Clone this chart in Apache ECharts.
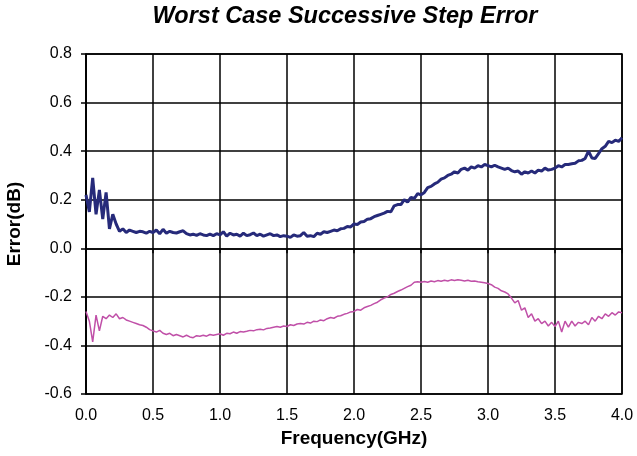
<!DOCTYPE html>
<html>
<head>
<meta charset="utf-8">
<script src="https://cdn.jsdelivr.net/npm/echarts@6/dist/echarts.min.js"></script>
<style>
  html, body { margin: 0; padding: 0; background: #fff; }
  #chart { width: 637px; height: 456px; }
</style>
</head>
<body>
<div id="chart"></div>
<script>
// sweep grid: 0.0 .. 4.0 GHz, 0.025 GHz step
const freqStart = 0;
const freqStep = 0.025;

// upper trace (dark blue)
const upperErr = [
  0.22, 0.15, 0.29, 0.14, 0.24, 0.12, 0.23, 0.08, 0.14, 0.10,
  0.07, 0.08, 0.065, 0.075, 0.07, 0.065, 0.07, 0.068, 0.062, 0.07,
  0.065, 0.075, 0.06, 0.078, 0.062, 0.07, 0.065, 0.063, 0.068, 0.072,
  0.06, 0.055, 0.058, 0.053, 0.06, 0.055, 0.052, 0.058, 0.052, 0.06,
  0.055, 0.068, 0.05, 0.062, 0.055, 0.058, 0.05, 0.062, 0.052, 0.056,
  0.063, 0.052, 0.058, 0.05, 0.055, 0.06, 0.052, 0.055, 0.048, 0.052,
  0.05, 0.045, 0.055, 0.05, 0.052, 0.065, 0.05, 0.052, 0.048, 0.062,
  0.058, 0.068, 0.065, 0.07, 0.075, 0.072, 0.08, 0.082, 0.09, 0.088,
  0.10, 0.098, 0.108, 0.11, 0.12, 0.122, 0.13, 0.135, 0.14, 0.145,
  0.152, 0.15, 0.175, 0.18, 0.18, 0.20, 0.19, 0.21, 0.205, 0.225,
  0.22, 0.23, 0.25, 0.255, 0.265, 0.272, 0.285, 0.29, 0.30, 0.305,
  0.315, 0.31, 0.325, 0.33, 0.322, 0.335, 0.33, 0.34, 0.335, 0.345,
  0.34, 0.335, 0.342, 0.335, 0.33, 0.325, 0.33, 0.32, 0.315, 0.318,
  0.305, 0.315, 0.31, 0.318, 0.31, 0.322, 0.318, 0.33, 0.322, 0.325,
  0.33, 0.34, 0.335, 0.345, 0.345, 0.348, 0.35, 0.36, 0.362, 0.37,
  0.40, 0.372, 0.37, 0.39, 0.41, 0.42, 0.44, 0.435, 0.445, 0.44,
  0.455
];

// lower trace (magenta)
const lowerErr = [
  -0.26, -0.30, -0.385, -0.275, -0.34, -0.28, -0.29, -0.275, -0.285, -0.27,
  -0.29, -0.285, -0.295, -0.30, -0.305, -0.31, -0.315, -0.318, -0.325, -0.335,
  -0.34, -0.345, -0.338, -0.35, -0.355, -0.35, -0.36, -0.355, -0.36, -0.365,
  -0.358, -0.365, -0.368, -0.36, -0.362, -0.358, -0.362, -0.355, -0.358, -0.355,
  -0.352, -0.358, -0.35, -0.352, -0.345, -0.35, -0.343, -0.345, -0.342, -0.338,
  -0.34, -0.335, -0.333, -0.336, -0.33, -0.328, -0.325, -0.322, -0.325, -0.32,
  -0.322, -0.315, -0.318, -0.312, -0.31, -0.312, -0.305, -0.308, -0.30, -0.302,
  -0.295, -0.298, -0.29, -0.285, -0.288, -0.28, -0.278, -0.272, -0.268, -0.262,
  -0.26, -0.252, -0.255, -0.245, -0.24, -0.235, -0.228, -0.222, -0.212, -0.205,
  -0.20, -0.19, -0.185, -0.178, -0.172, -0.165, -0.158, -0.152, -0.14, -0.138,
  -0.14, -0.137, -0.14, -0.135, -0.138, -0.133, -0.136, -0.132, -0.135, -0.13,
  -0.133, -0.13, -0.132, -0.135, -0.132, -0.136, -0.135, -0.138, -0.14, -0.142,
  -0.145, -0.15, -0.16, -0.165, -0.175, -0.18, -0.188, -0.205, -0.225, -0.215,
  -0.255, -0.245, -0.285, -0.27, -0.30, -0.29, -0.31, -0.30, -0.32, -0.305,
  -0.322, -0.30, -0.345, -0.30, -0.325, -0.30, -0.32, -0.305, -0.31, -0.30,
  -0.315, -0.285, -0.30, -0.28, -0.29, -0.27, -0.28, -0.265, -0.275, -0.262,
  -0.265
];

const freqs = upperErr.map((_, i) => +(freqStart + i * freqStep).toFixed(3));

const chart = echarts.init(document.getElementById('chart'), null, { renderer: 'canvas' });

const fontFamily = 'Liberation Sans, Arial, sans-serif';
const axisFont = { color: '#000', fontSize: 16, fontFamily: fontFamily };
const nameFont = { color: '#000', fontSize: 19, fontWeight: 'bold', fontFamily: fontFamily };

const option = {
  animation: false,
  backgroundColor: '#fff',
  title: {
    text: 'Worst Case Successive Step Error',
    left: 340,
    textAlign: 'center',
    top: 0,
    textStyle: {
      fontSize: 23.5,
      fontWeight: 'bold',
      fontStyle: 'italic',
      color: '#000',
      fontFamily: fontFamily
    }
  },
  grid: {
    left: 86,
    right: 15,
    top: 54,
    bottom: 62,
    outerBoundsMode: 'none',
    containLabel: false,
    show: true,
    borderColor: '#000',
    borderWidth: 1.5
  },
  xAxis: {
    type: 'value',
    min: 0,
    max: 4,
    interval: 0.5,
    name: 'Frequency(GHz)',
    nameLocation: 'middle',
    nameGap: 30,
    nameTextStyle: nameFont,
    axisLine: { show: true, lineStyle: { color: '#000', width: 1.5 } },
    axisTick: { show: true, length: 5, lineStyle: { color: '#000', width: 1.5 } },
    axisLabel: Object.assign({ margin: 14, formatter: v => v.toFixed(1) }, axisFont),
    splitLine: { show: true, lineStyle: { color: '#000', width: 1.5 } }
  },
  yAxis: {
    type: 'value',
    min: -0.6,
    max: 0.8,
    interval: 0.2,
    name: 'Error(dB)',
    nameLocation: 'middle',
    nameGap: 62,
    nameTextStyle: nameFont,
    axisLine: { show: true, lineStyle: { color: '#000', width: 1.5 } },
    axisTick: { show: true, length: 5, lineStyle: { color: '#000', width: 1.5 } },
    axisLabel: Object.assign({ margin: 14, formatter: v => v.toFixed(1) }, axisFont),
    splitLine: { show: true, lineStyle: { color: '#000', width: 1.5 } }
  },
  series: [
    {
      name: 'upper',
      type: 'line',
      data: freqs.map((f, i) => [f, upperErr[i]]),
      showSymbol: false,
      lineStyle: { color: '#262a7a', width: 3 },
      itemStyle: { color: '#262a7a' },
      z: 3
    },
    {
      name: 'lower',
      type: 'line',
      data: freqs.map((f, i) => [f, lowerErr[i]]),
      showSymbol: false,
      lineStyle: { color: '#c050a8', width: 1.5 },
      itemStyle: { color: '#c050a8' },
      z: 2
    }
  ]
};

chart.setOption(option);
</script>
</body>
</html>
